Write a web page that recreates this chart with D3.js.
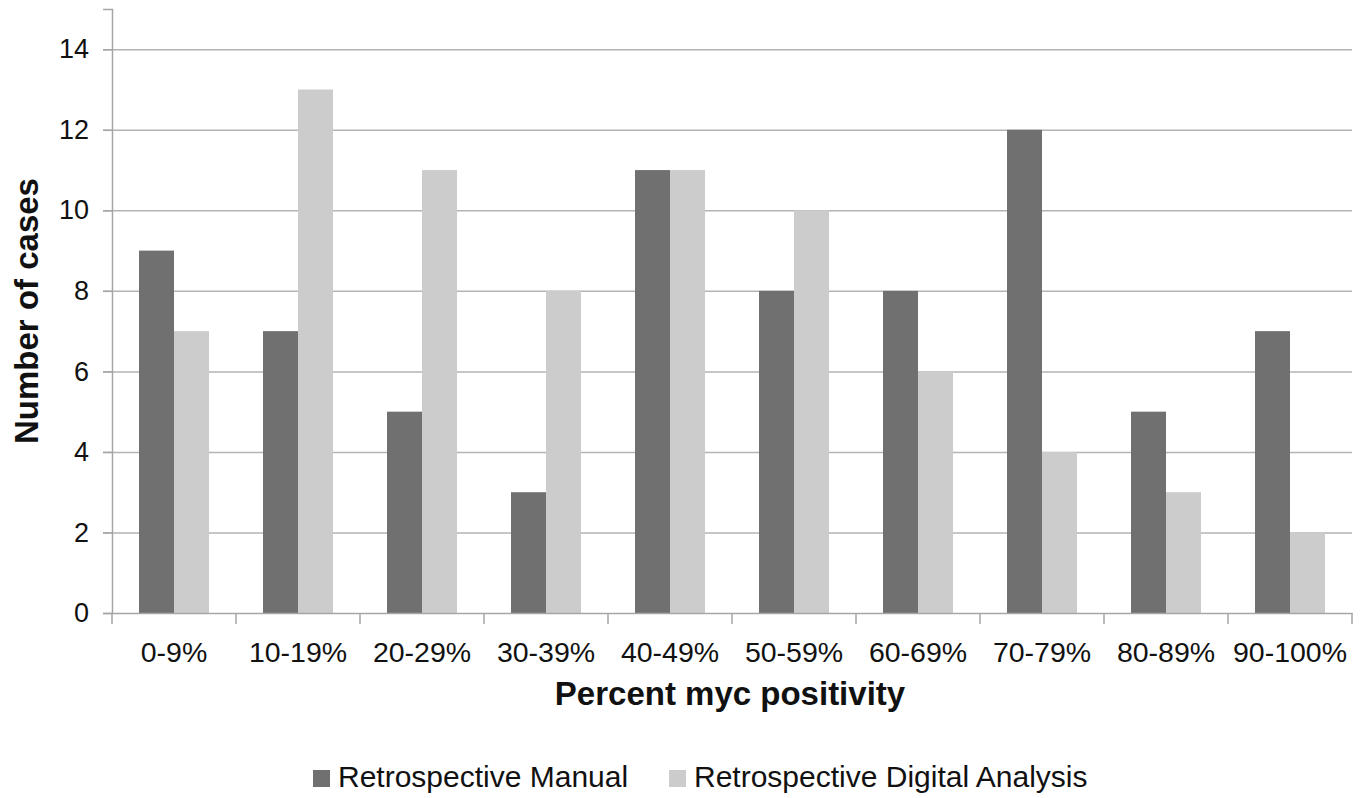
<!DOCTYPE html>
<html>
<head>
<meta charset="utf-8">
<script src="https://cdn.jsdelivr.net/npm/d3@7"></script>
<style>
  body { margin: 0; background: #fff; }
  svg text { font-family: "Liberation Sans", Arial, Helvetica, sans-serif; fill: #111; }
</style>
</head>
<body>
<svg id="chart" width="1366" height="798"></svg>
<script>
let categories = ["0-9%", "10-19%", "20-29%", "30-39%", "40-49%", "50-59%", "60-69%", "70-79%", "80-89%", "90-100%"];
let manual = [9, 7, 5, 3, 11, 8, 8, 12, 5, 7];
let digital = [7, 13, 11, 8, 11, 10, 6, 4, 3, 2];
let seriesNames = ["Retrospective Manual", "Retrospective Digital Analysis"];
let yTicks = [0, 2, 4, 6, 8, 10, 12, 14];

let colors = ["#707070", "#cccccc"];
let svg = d3.select("#chart");

let plotLeft = 112, plotRight = 1352, plotTop = 9, plotBottom = 613;

let x = d3.scaleBand().domain(categories).range([plotLeft, plotRight]).padding(0);
let y = d3.scaleLinear().domain([0, 15]).range([plotBottom, plotTop]);

let barW = 35;
let inner = d3.scaleBand().domain([0, 1]).range([0, barW * 2]);

// gridlines
svg.append("g").selectAll("line")
    .data(yTicks.filter(d => d > 0))
    .enter().append("line")
    .attr("x1", plotLeft - 9).attr("x2", plotRight)
    .attr("y1", d => y(d) + 0.5).attr("y2", d => y(d) + 0.5)
    .style("stroke", "#b3b3b3").style("stroke-width", 1.5);

// bars
let rows = categories.map((c, i) => ({cat: c, vals: [manual[i], digital[i]]}));
let groups = svg.append("g").selectAll("g")
    .data(rows).enter().append("g")
    .attr("transform", d => "translate(" + (x(d.cat) + x.bandwidth() / 2 - barW) + ",0)");
groups.selectAll("rect")
    .data(d => d.vals.map((v, k) => ({k: k, v: v})))
    .enter().append("rect")
    .attr("x", d => inner(d.k))
    .attr("width", inner.bandwidth())
    .attr("y", d => y(d.v))
    .attr("height", d => plotBottom - y(d.v))
    .style("fill", d => colors[d.k]);

// y axis
let yAxis = svg.append("g")
    .attr("transform", "translate(" + plotLeft + ",0)")
    .call(d3.axisLeft(y).tickValues(yTicks).tickSize(9).tickPadding(14));
yAxis.select(".domain").style("stroke", "#a6a6a6").style("stroke-width", 1.5);
yAxis.selectAll(".tick line").style("stroke", "#a6a6a6").style("stroke-width", 1.5);
yAxis.selectAll("text").style("font-size", "27px").style("font-family", "Liberation Sans, Arial, sans-serif").attr("fill", "#111");

// x axis
let xAxis = svg.append("g")
    .attr("transform", "translate(0," + plotBottom + ")")
    .call(d3.axisBottom(x).tickSize(0).tickPadding(29));
xAxis.select(".domain").style("stroke", "#a6a6a6").style("stroke-width", 1.5);
xAxis.selectAll("text").style("font-size", "28.5px").style("font-family", "Liberation Sans, Arial, sans-serif").attr("fill", "#111");
svg.append("g").selectAll("line")
    .data(categories.concat(["end"]))
    .enter().append("line")
    .attr("x1", d => d === "end" ? plotRight : x(d))
    .attr("x2", d => d === "end" ? plotRight : x(d))
    .attr("y1", plotBottom).attr("y2", plotBottom + 11)
    .style("stroke", "#a6a6a6").style("stroke-width", 1.5);

// axis titles
svg.append("text")
    .attr("x", (plotLeft + plotRight) / 2 - 2).attr("y", 705)
    .attr("text-anchor", "middle")
    .style("font-size", "33px").style("font-weight", "bold")
    .text("Percent myc positivity");
svg.append("text")
    .attr("transform", "translate(38," + 311 + ") rotate(-90)")
    .attr("text-anchor", "middle")
    .style("font-size", "33px").style("font-weight", "bold")
    .text("Number of cases");

// legend
let legendX = [313, 669];
let leg = svg.append("g").selectAll("g")
    .data(seriesNames).enter().append("g")
    .attr("transform", (d, i) => "translate(" + legendX[i] + ",770)");
leg.append("rect")
    .attr("width", 17).attr("height", 17)
    .style("fill", (d, i) => colors[i]);
leg.append("text")
    .attr("x", 25).attr("y", 17)
    .style("font-size", "30px")
    .text(d => d);
</script>
</body>
</html>
